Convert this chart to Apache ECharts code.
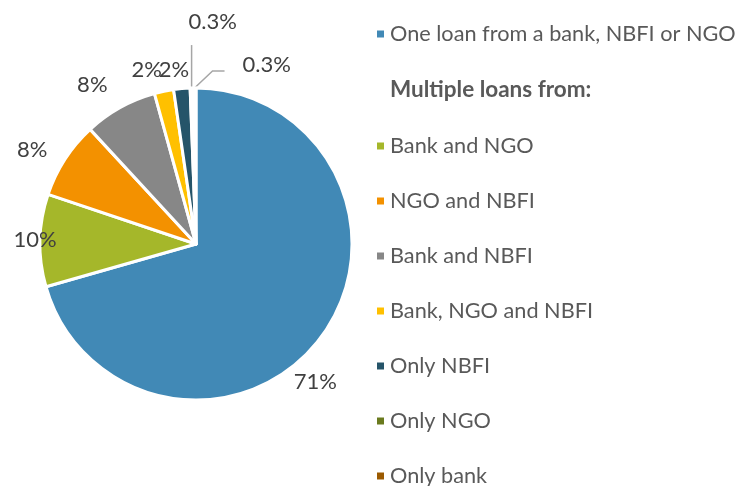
<!DOCTYPE html>
<html>
<head>
<meta charset="utf-8">
<script src="https://cdn.jsdelivr.net/npm/echarts@6/dist/echarts.min.js"></script>
<style>
  html, body { margin: 0; padding: 0; background: #fff; }
  #chart { width: 738px; height: 486px; }
</style>
</head>
<body>
<div id="chart"></div>
<script>
  // categories and shares (%)
  var names = [
    "One loan from a bank, NBFI or NGO",
    "Bank and NGO",
    "NGO and NBFI",
    "Bank and NBFI",
    "Bank, NGO and NBFI",
    "Only NBFI",
    "Only NGO",
    "Only bank"
  ];
  var shares = [70.8, 9.6, 8.0, 7.6, 2.0, 1.7, 0.3, 0.3];
  var colors = ["#4189b6", "#a5b72a", "#f39100", "#878787", "#ffc000", "#255469", "#6a7a1e", "#9b5a00"];

  var font = "Lato, Carlito, sans-serif";
  var center = [196, 244];
  var R = 156;
  // how far the label centre sits past the rim, and a small turn (deg) off the bisector
  var labelGap = [26, 5, 33, 34, 25, 19];
  var labelTurn = [12, 0, -3, -4, -4, -2];

  var data = names.map(function (n, i) {
    return { name: n, value: shares[i], itemStyle: { color: colors[i] } };
  });

  var myChart = echarts.init(document.getElementById("chart"));
  myChart.setOption({
    animation: false,
    textStyle: { fontFamily: font },
    legend: [
      {
        data: names.slice(0, 1),
        left: 370,
        top: 17,
        icon: "rect",
        itemWidth: 9,
        itemHeight: 9,
        selectedMode: false,
        textStyle: { fontSize: 21.7, color: "#595959", lineHeight: 24 }
      },
      {
        data: names.slice(1),
        orient: "vertical",
        left: 370,
        top: 129,
        height: 400,
        icon: "rect",
        itemWidth: 9,
        itemHeight: 9,
        itemGap: 31,
        selectedMode: false,
        textStyle: { fontSize: 21.7, color: "#595959", lineHeight: 24 }
      }
    ],
    graphic: [
      {
        type: "text",
        left: 390,
        top: 78,
        style: {
          text: "Multiple loans from:",
          fontSize: 22.5,
          fontWeight: "bold",
          fill: "#595959",
          fontFamily: font
        }
      }
    ],
    series: [
      {
        type: "pie",
        center: center,
        radius: R,
        startAngle: 90,
        clockwise: true,
        avoidLabelOverlap: false,
        itemStyle: { borderColor: "#fff", borderWidth: 3 },
        label: {
          position: "outside",
          fontSize: 22,
          color: "#404040",
          formatter: function (p) {
            return (p.value >= 1 ? Math.round(p.value) : p.value) + "%";
          }
        },
        labelLine: {
          show: false,
          length: 8,
          length2: 0,
          lineStyle: { color: "#a6a6a6", width: 1.5 }
        },
        data: data
      }
    ]
  });

  // place the labels like the Excel original: centred just past the rim
  myChart.setOption({
    series: [{
      labelLayout: function (p) {
        var i = p.dataIndex;
        var p0 = p.labelLinePoints[0];
        var a = Math.atan2(p0[0] - center[0], -(p0[1] - center[1]));
        if (i < labelGap.length) {
          var t = a + labelTurn[i] * Math.PI / 180;
          var r = R + labelGap[i];
          return {
            x: center[0] + r * Math.sin(t),
            y: center[1] - r * Math.cos(t),
            align: "center",
            verticalAlign: "middle"
          };
        }
        // the two tiny slices get leader lines
        var x0 = p0[0], y0 = p0[1];
        if (i === 6) {
          return {
            x: x0 + 21, y: y0 - 66,
            align: "center", verticalAlign: "middle",
            labelLinePoints: [[x0, y0], [x0, y0 - 43], [x0, y0 - 43]]
          };
        }
        return {
          x: x0 + 48, y: y0 - 23,
          align: "left", verticalAlign: "middle",
          labelLinePoints: [[x0, y0], [x0 + 18, y0 - 17], [x0 + 30, y0 - 17]]
        };
      },
      data: data.map(function (d, i) {
        return i >= 6 ? Object.assign({}, d, { labelLine: { show: true } }) : d;
      })
    }]
  });
</script>
</body>
</html>
